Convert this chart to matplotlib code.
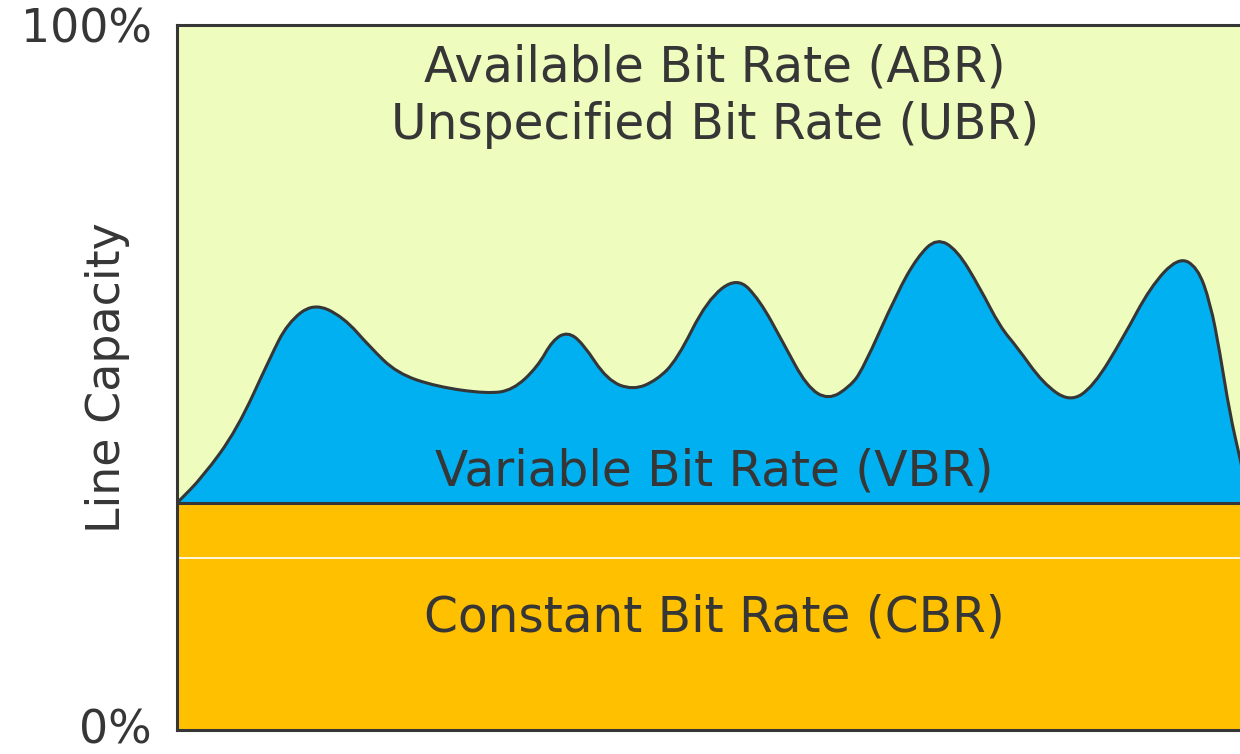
import numpy as np
import matplotlib.pyplot as plt
import matplotlib.transforms as mtransforms
from matplotlib.path import Path
from matplotlib.patches import PathPatch

# share of line capacity (%) over time
cbr_level = 32.2
cbr_split = 24.4
vbr_t = [0, 2.4, 5.6, 8.7, 10.3, 12.7, 15.5, 18.0, 20.5, 24.2, 28.9, 31.3, 33.6,
         35.0, 36.4, 37.8, 40.1, 42.5, 44.7, 46.6, 49.4, 52.2, 54.3, 56.5, 58.7,
         60.7, 62.7, 63.9, 67.1, 69.0, 70.8, 72.7, 74.8, 76.7, 78.3, 80.7, 83.2,
         85.4, 88.2, 90.7, 93.3, 95.1, 96.3, 97.2, 98.1, 99.1, 100]
vbr_top = [32.2, 35.9, 42.6, 52.9, 57.7, 60.6, 58.6, 54.3, 50.6, 48.7, 47.7, 48.2, 51.5,
           55.3, 56.5, 54.9, 49.6, 48.2, 49.6, 52.5, 61.0, 64.3, 61.0, 54.9, 48.7,
           46.8, 48.7, 51.1, 62.0, 67.1, 69.8, 68.1, 62.8, 57.2, 54.3, 49.2, 46.5,
           48.7, 55.7, 62.8, 67.1, 65.7, 60.6, 53.5, 45.0, 38.3, 32.2]

ytick_pos = [0, 100]
ytick_labels = ['0%', '100%']

GREEN = '#eefdbe'
BLUE = '#00b0f0'
ORANGE = '#ffc000'
INK = '#363636'

plt.rcParams['font.family'] = 'DejaVu Sans'

fig = plt.figure(figsize=(12.4, 7.54), dpi=100)
ax = fig.add_axes([177 / 1240, 24 / 754, (1250 - 177) / 1240, 705 / 754])
ax.set_xlim(0, 100)
ax.set_ylim(0, 100)
ax.set_facecolor(GREEN)

# smooth outline: quadratic bezier through the midpoints of the samples
pts = np.column_stack([vbr_t, vbr_top])
verts = [pts[0], (pts[0] + pts[1]) / 2]
codes = [Path.MOVETO, Path.LINETO]
for i in range(1, len(pts) - 1):
    verts += [pts[i], (pts[i] + pts[i + 1]) / 2]
    codes += [Path.CURVE3, Path.CURVE3]
verts.append(pts[-1])
codes.append(Path.LINETO)

fill_verts = verts + [(pts[-1][0], cbr_level), (pts[0][0], cbr_level), pts[0]]
fill_codes = codes + [Path.LINETO, Path.LINETO, Path.CLOSEPOLY]
ax.add_patch(PathPatch(Path(fill_verts, fill_codes), facecolor=BLUE,
                       edgecolor='none', zorder=2))
ax.add_patch(PathPatch(Path(verts, codes), facecolor='none', edgecolor=INK,
                       lw=2.2, zorder=4, capstyle='round', joinstyle='round'))

# constant bit rate band
ax.fill_between([0, 100], 0, cbr_level, color=ORANGE, zorder=3)
ax.axhline(cbr_level, color=INK, lw=2.2, zorder=4)
ax.axhline(cbr_split, color='white', lw=1.2, zorder=4)

txt = dict(ha='center', va='center', color=INK, fontsize=35, zorder=5)
ax.text(50.1, 94.0, 'Available Bit Rate (ABR)', **txt)
ax.text(50.1, 85.8, 'Unspecified Bit Rate (UBR)', **txt)
ax.text(50.1, 36.6, 'Variable Bit Rate (VBR)', **txt)
ax.text(50.1, 15.9, 'Constant Bit Rate (CBR)', **txt)

ax.set_xticks([])
ax.set_yticks(ytick_pos)
ax.set_yticklabels(ytick_labels)
ax.tick_params(axis='y', length=0, pad=18, labelsize=33, labelcolor=INK)

# lift the bottom label a touch so it stays inside the canvas
lift = mtransforms.ScaledTranslation(0, 4 / 100, fig.dpi_scale_trans)
bottom_label = ax.get_yticklabels()[0]
bottom_label.set_transform(bottom_label.get_transform() + lift)

# axis title sits between the tick labels, so place it by hand
fig.text(108 / 1240, 1 - 378 / 754, 'Line Capacity', rotation=90,
         ha='center', va='center', fontsize=33, color=INK)

for side in ['left', 'top', 'bottom']:
    ax.spines[side].set_color(INK)
    ax.spines[side].set_linewidth(2.2)
    ax.spines[side].set_zorder(6)
ax.spines['right'].set_visible(False)

fig.savefig('out.png', dpi=100)
